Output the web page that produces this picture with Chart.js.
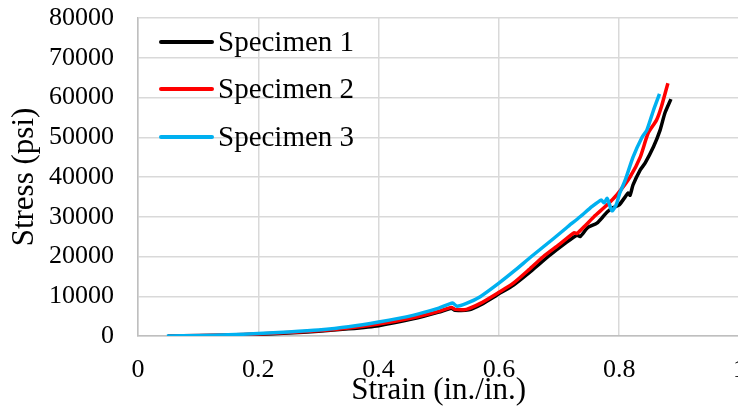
<!DOCTYPE html>
<html>
<head>
<meta charset="utf-8">
<script src="https://cdn.jsdelivr.net/npm/chart.js@4.4.1/dist/chart.umd.min.js"></script>
<style>
  html, body { margin: 0; padding: 0; background: #fff; overflow: hidden; }
  #wrap { width: 760px; height: 409px; }
</style>
</head>
<body>
<div id="wrap"><canvas id="chart" width="760" height="409"></canvas></div>
<script>
// --- datos ---
const strain1 = [0.05, 0.1, 0.15, 0.2, 0.25, 0.3, 0.35, 0.4, 0.457, 0.5, 0.521, 0.527, 0.55, 0.57, 0.6, 0.625, 0.655, 0.682, 0.71, 0.73, 0.735, 0.748, 0.763, 0.773, 0.78, 0.79, 0.8, 0.81, 0.815, 0.818, 0.823, 0.835, 0.843, 0.857, 0.868, 0.876, 0.886];
const stress1 = [0, 80, 200, 450, 750, 1200, 1800, 2600, 4300, 6000, 7000, 6500, 6600, 7900, 10600, 12900, 16500, 20000, 23300, 25400, 25000, 27300, 28400, 30000, 31200, 32300, 33000, 35000, 36000, 35400, 38000, 41800, 43500, 47600, 51800, 56100, 59600];

const strain2 = [0.05, 0.1, 0.15, 0.2, 0.25, 0.3, 0.35, 0.4, 0.457, 0.5, 0.521, 0.527, 0.546, 0.569, 0.6, 0.624, 0.65, 0.674, 0.7, 0.725, 0.73, 0.745, 0.758, 0.78, 0.796, 0.818, 0.835, 0.848, 0.862, 0.87, 0.881];
const stress2 = [0, 100, 250, 500, 850, 1300, 2000, 3000, 4600, 6200, 7200, 6700, 6700, 8200, 11000, 13300, 16700, 20000, 23000, 26000, 25800, 28000, 30000, 33000, 35500, 40000, 45000, 51000, 54300, 57600, 63600];

const strain3 = [0.048, 0.1, 0.15, 0.2, 0.25, 0.3, 0.35, 0.4, 0.457, 0.5, 0.523, 0.53, 0.546, 0.569, 0.6, 0.625, 0.654, 0.69, 0.713, 0.735, 0.755, 0.77, 0.775, 0.78, 0.788, 0.795, 0.801, 0.81, 0.823, 0.838, 0.846, 0.857, 0.867];
const stress3 = [0, 120, 300, 600, 1000, 1500, 2300, 3500, 5200, 7000, 8300, 7500, 8200, 9900, 13300, 16300, 20000, 24400, 27300, 30000, 32600, 34200, 33500, 34600, 31500, 33000, 36000, 39200, 45000, 50000, 51800, 56800, 60900];

const seriesNames = ["Specimen 1", "Specimen 2", "Specimen 3"];
const seriesColors = ["#000000", "#ff0000", "#00b0f0"];
const xTicks = [0, 0.2, 0.4, 0.6, 0.8, 1];
const yTicks = [0, 10000, 20000, 30000, 40000, 50000, 60000, 70000, 80000];

const FONT = "'Liberation Serif', 'Times New Roman', serif";

function pts(xs, ys) {
  return xs.map((x, i) => ({ x: x, y: ys[i] }));
}

// leyenda dentro del área del gráfico
const insideLegend = {
  id: "insideLegend",
  afterDraw(chart) {
    const ctx = chart.ctx;
    const rows = [42, 89, 137];
    ctx.save();
    chart.data.datasets.forEach((ds, i) => {
      const y = rows[i];
      ctx.strokeStyle = ds.borderColor;
      ctx.lineWidth = 4;
      ctx.lineCap = "round";
      ctx.beginPath();
      ctx.moveTo(161, y);
      ctx.lineTo(212, y);
      ctx.stroke();
      ctx.fillStyle = "#000";
      ctx.font = "29px " + FONT;
      ctx.textBaseline = "middle";
      ctx.textAlign = "left";
      ctx.fillText(ds.label, 218, y + 1);
    });
    ctx.restore();
  }
};

const datasets = [
  { data: pts(strain1, stress1), order: 3 },
  { data: pts(strain2, stress2), order: 2 },
  { data: pts(strain3, stress3), order: 1 }
].map((d, i) => Object.assign(d, {
  label: seriesNames[i],
  borderColor: seriesColors[i],
  backgroundColor: seriesColors[i],
  borderWidth: 3.5,
  pointRadius: 0,
  tension: 0.2,
  fill: false
}));

new Chart(document.getElementById("chart").getContext("2d"), {
  type: "line",
  data: { datasets },
  options: {
    responsive: false,
    animation: false,
    layout: { padding: { top: 18, right: 20.5, bottom: 0, left: 0 } },
    plugins: { legend: { display: false }, tooltip: { enabled: false } },
    scales: {
      x: {
        type: "linear",
        min: 0, max: 1,
        afterFit: s => { s.height = 73; },
        afterBuildTicks: s => { s.ticks = xTicks.map(v => ({ value: v })); },
        ticks: {
          color: "#000", padding: 2,
          font: { family: FONT, size: 26 },
          callback: v => String(Number(v.toFixed(1)))
        },
        grid: { color: "#d9d9d9", lineWidth: 1.5, drawTicks: true, tickLength: 17, tickColor: "rgba(0,0,0,0)" },
        border: { color: "#bfbfbf", width: 1.5 },
        title: {
          display: true, text: "Strain (in./in.)", color: "#000",
          font: { family: FONT, size: 31 },
          padding: { top: 0, bottom: 0 }
        }
      },
      y: {
        min: 0, max: 80000,
        afterFit: s => { s.width = 138; },
        afterBuildTicks: s => { s.ticks = yTicks.map(v => ({ value: v })); },
        ticks: {
          color: "#000", padding: 2,
          font: { family: FONT, size: 26 },
          callback: v => String(v)
        },
        grid: { color: "#d9d9d9", lineWidth: 1.5, drawTicks: true, tickLength: 22, tickColor: "rgba(0,0,0,0)" },
        border: { color: "#bfbfbf", width: 1.5 },
        title: {
          display: true, text: "Stress (psi)", color: "#000",
          font: { family: FONT, size: 31 },
          padding: { top: 6, bottom: 0 }
        }
      }
    }
  },
  plugins: [insideLegend]
});
</script>
</body>
</html>
